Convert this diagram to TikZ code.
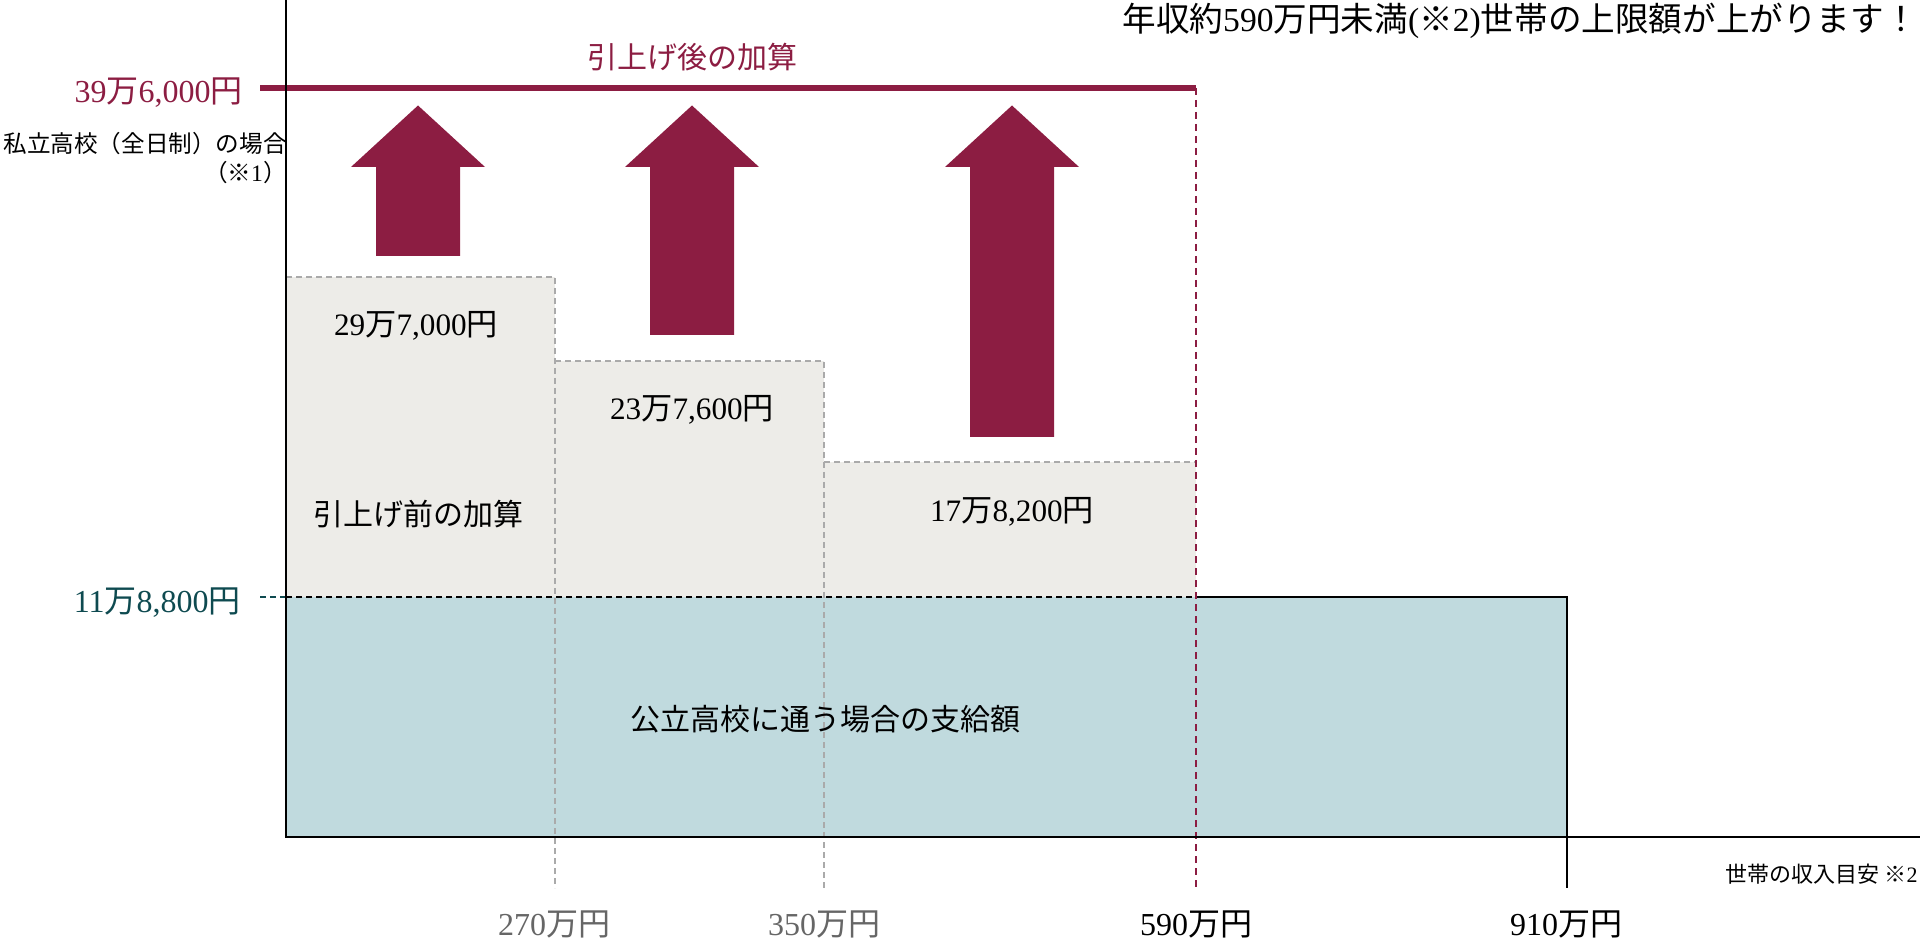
\documentclass[tikz,border=0pt]{standalone}
\usepackage{fontspec}
\setmainfont{Liberation Serif}
\newfontfamily\cj{Noto Sans CJK JP}
\newcommand\J[1]{{\cj #1}}
\newcommand\myfs[1]{\fontsize{#1}{#1}\selectfont}
\definecolor{mag}{RGB}{140,29,66}
\definecolor{boxgray}{RGB}{237,236,232}
\definecolor{tealfill}{RGB}{192,218,222}
\definecolor{tealtext}{RGB}{14,74,80}
\definecolor{dgray}{RGB}{170,170,170}
\definecolor{lblgray}{RGB}{102,102,102}
\newcommand\myuparrow[2]{%
  \fill[mag] (#1-67,167) -- (#1,105.5) -- (#1+67,167) -- (#1+42,167) -- (#1+42,#2) -- (#1-42,#2) -- (#1-42,167) -- cycle;}
\begin{document}
\begin{tikzpicture}[x=0.5pt,y=-0.5pt,
  graydash/.style={draw=dgray,line width=0.75pt,dash pattern=on 3pt off 2pt},
  magdash/.style={draw=mag,line width=0.75pt,dash pattern=on 3.5pt off 2.5pt},
  blackdash/.style={draw=black,line width=0.75pt,dash pattern=on 3pt off 2pt},
  axisline/.style={draw=black,line width=0.75pt},
  lbl/.style={inner sep=0pt,anchor=base},
  mid/.style={lbl,font=\myfs{15pt}},
  num/.style={lbl,font=\myfs{15.6pt}}]
\useasboundingbox (0,0) rectangle (1920,940);
% named corners
\coordinate (o) at (286,837);
\coordinate (ytop) at (286,0);
\coordinate (xend) at (1920,837);
\coordinate (b1tl) at (286,277);
\coordinate (b1tr) at (555,277);
\coordinate (b2tr) at (824,361);
\coordinate (b3tl) at (824,462);
\coordinate (b3tr) at (1196,462);
\coordinate (ttl) at (286,597);
\coordinate (tmid) at (1196,597);
\coordinate (ttr) at (1567,597);
\coordinate (tbr) at (1567,888);
\coordinate (v1b) at (555,888);
\coordinate (v2b) at (824,888);
\coordinate (v3t) at (1196,88);
\coordinate (v3b) at (1196,888);
\coordinate (topl) at (260,88);
\coordinate (tealdl) at (260,597);
% grey boxes (before raise)
\fill[boxgray] (b1tl) rectangle (555,597);
\fill[boxgray] (555,361) rectangle (824,597);
\fill[boxgray] (b3tl) rectangle (tmid);
% teal box
\fill[tealfill] (ttl) rectangle (1567,837);
% grey dashed borders
\draw[graydash] (b1tl) -- (b1tr) -- (v1b);
\draw[graydash] (555,361) -- (b2tr) -- (v2b);
\draw[graydash] (b3tl) -- (b3tr);
% teal box outline
\draw[blackdash] (ttl) -- (tmid);
\draw[axisline] (tmid) -- (ttr) -- (tbr);
\draw[draw=tealtext,line width=0.75pt,dash pattern=on 3pt off 2pt] (tealdl) -- (ttl);
% magenta dashed limit
\draw[magdash] (v3t) -- (v3b);
% arrows
\myuparrow{418}{256}
\myuparrow{692}{335}
\myuparrow{1012}{437}
% top line
\draw[mag,line width=2.6pt] (topl) -- (v3t);
% axes
\draw[axisline] (ytop) -- (o) -- (xend);
% texts
\node[lbl,anchor=base east,font=\myfs{16.8pt}] (title) at (1918,32) {\J{年収約}590\J{万円未満}(\J{※}2)\J{世帯の上限額が上がります！}};
\node[num,anchor=base east,font=\myfs{16pt},text=mag] (ymax) at (243,103) {39\J{万}6,000\J{円}};
\node[lbl,anchor=base east,font=\myfs{11.8pt}] (priv1) at (287,153) {\J{私立高校（全日制）の場合}};
\node[lbl,anchor=base east,font=\myfs{11.8pt}] (priv2) at (287,182) {\J{（※}1\J{）}};
\node[mid,text=mag] (after) at (692,69) {\J{引上げ後の加算}};
\node[num] (v1) at (416,336) {29\J{万}7,000\J{円}};
\node[num] (v2) at (692,420) {23\J{万}7,600\J{円}};
\node[num] (v3) at (1012,521) {17\J{万}8,200\J{円}};
\node[mid] (before) at (418,525) {\J{引上げ前の加算}};
\node[num,anchor=base east,font=\myfs{16pt},text=tealtext] (ymin) at (241,612) {11\J{万}8,800\J{円}};
\node[mid] (pub) at (825,730) {\J{公立高校に通う場合の支給額}};
\node[num,font=\myfs{16pt},text=lblgray] (x1) at (554,935) {270\J{万円}};
\node[num,font=\myfs{16pt},text=lblgray] (x2) at (824,935) {350\J{万円}};
\node[num,font=\myfs{16pt}] (x3) at (1196,935) {590\J{万円}};
\node[num,font=\myfs{16pt}] (x4) at (1566,935) {910\J{万円}};
\node[lbl,anchor=base east,font=\myfs{11pt}] (xcap) at (1918,882) {\J{世帯の収入目安 ※}2};
\end{tikzpicture}
\end{document}
